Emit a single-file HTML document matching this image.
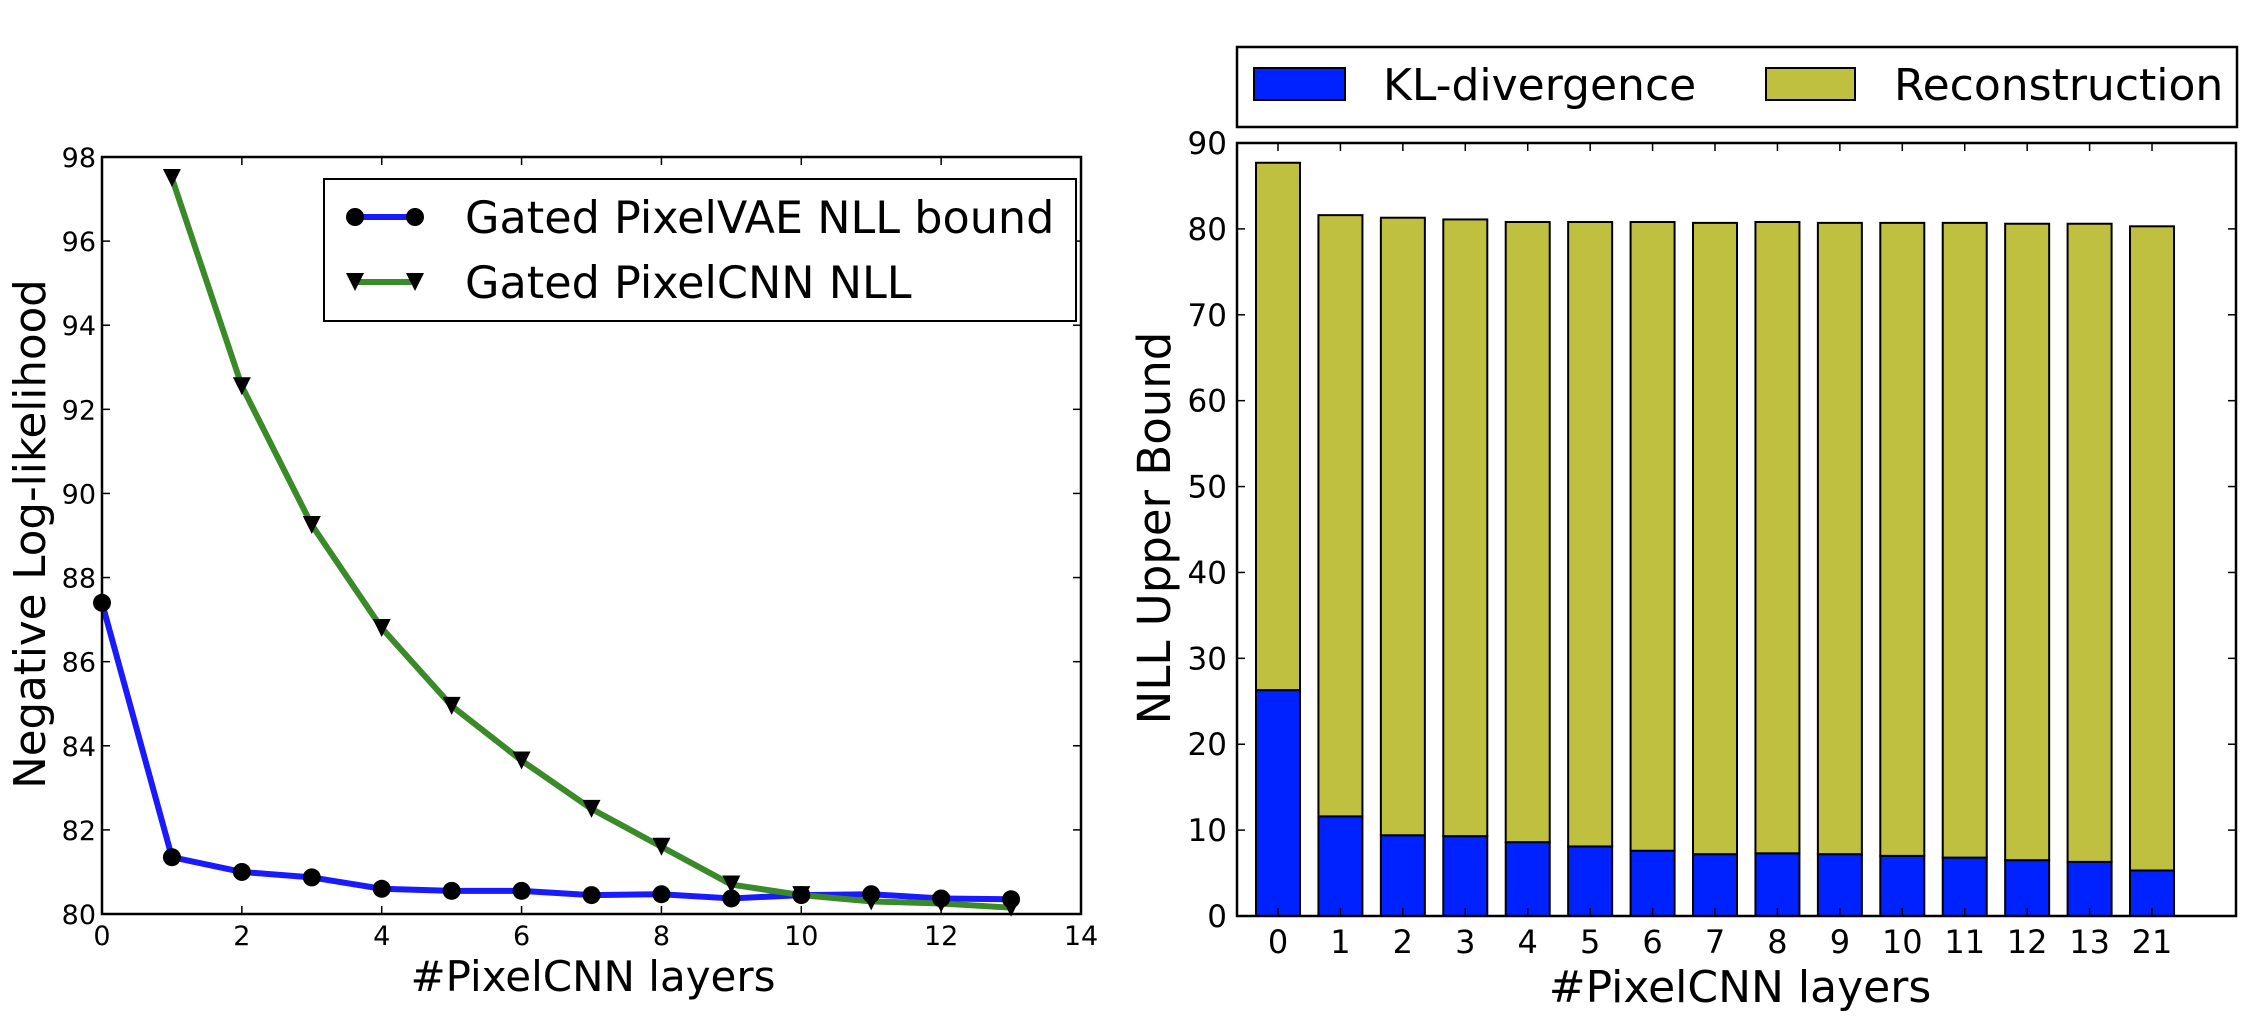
<!DOCTYPE html>
<html><head><meta charset="utf-8">
<style>
html,body{margin:0;padding:0;background:#fff;}
svg{display:block;font-family:"DejaVu Sans","Liberation Sans",sans-serif;}
</style></head>
<body>
<svg id="chart" width="2247" height="1016" viewBox="0 0 2247 1016" xmlns="http://www.w3.org/2000/svg">
<rect width="2247" height="1016" fill="#fff"/>
<g id="left"></g>
<g id="right"></g>
</svg>
<script>
// Left chart data
const layersLeft = [0,1,2,3,4,5,6,7,8,9,10,11,12,13];
const vaeNLL = [87.4,81.35,81.0,80.87,80.6,80.55,80.55,80.45,80.47,80.37,80.45,80.47,80.37,80.35];
const cnnLayers = [1,2,3,4,5,6,7,8,9,10,11,12,13];
const cnnNLL = [97.5,92.55,89.25,86.8,84.95,83.65,82.5,81.6,80.7,80.45,80.3,80.25,80.15];
const leftXTicks = [0,2,4,6,8,10,12,14];
const leftYTicks = [80,82,84,86,88,90,92,94,96,98];
// Right chart data
const barCategories = ["0","1","2","3","4","5","6","7","8","9","10","11","12","13","21"];
const klValues = [26.3,11.6,9.4,9.3,8.6,8.1,7.6,7.2,7.3,7.2,7.0,6.8,6.5,6.3,5.3];
const reconValues = [61.4,70.0,71.9,71.8,72.2,72.7,73.2,73.5,73.5,73.5,73.7,73.9,74.1,74.3,75.0];
const rightYTicks = [0,10,20,30,40,50,60,70,80,90];

const NS="http://www.w3.org/2000/svg";
function mk(parent,tag,attrs,text){const e=document.createElementNS(NS,tag);for(const k in attrs)e.setAttribute(k,attrs[k]);if(text!==undefined)e.textContent=text;parent.appendChild(e);return e;}

// ---------- LEFT ----------
const L=document.getElementById('left');
const lx0=102,lx1=1081,ly0=914,ly1=157;
const lxs=v=>lx0+(v-0)/(14-0)*(lx1-lx0);
const lys=v=>ly0-(v-80)/(98-80)*(ly0-ly1);
leftXTicks.forEach(t=>{
  const x=lxs(t);
  const a=mk(L,'line',{x1:x,y1:ly0,x2:x,y2:ly0-8,stroke:'#000','stroke-width':1.5});
  
  
  const b=mk(L,'line',{x1:x,y1:ly1,x2:x,y2:ly1+8,stroke:'#000','stroke-width':1.5});
  
  
  const tx=mk(L,'text',{x:x,y:945,'font-size':27,'text-anchor':'middle'},String(t));
  
  
});
leftYTicks.forEach(t=>{
  const y=lys(t);
  const a=mk(L,'line',{x1:lx0,y1:y,x2:lx0+8,y2:y,stroke:'#000','stroke-width':1.5});
  
  
  const b=mk(L,'line',{x1:lx1,y1:y,x2:lx1-8,y2:y,stroke:'#000','stroke-width':1.5});
  
  
  const tx=mk(L,'text',{x:lx0-6,y:y+10,'font-size':27,'text-anchor':'end'},String(t));
  
  
});
// lines
const vaePts=layersLeft.map((v,i)=>lxs(v)+','+lys(vaeNLL[i])).join(' ');
const vl=mk(L,'polyline',{points:vaePts,fill:'none',stroke:'#1a1aff','stroke-width':6,'stroke-linejoin':'round'});


const cnnPts=cnnLayers.map((v,i)=>lxs(v)+','+lys(cnnNLL[i])).join(' ');
const cl=mk(L,'polyline',{points:cnnPts,fill:'none',stroke:'#3a8a2a','stroke-width':6,'stroke-linejoin':'round'});


layersLeft.forEach((v,i)=>{
  const c=mk(L,'circle',{cx:lxs(v),cy:lys(vaeNLL[i]),r:9,fill:'#000'});
  
  
});
cnnLayers.forEach((v,i)=>{
  const x=lxs(v),y=lys(cnnNLL[i]);
  const p=mk(L,'polygon',{points:`${x-9},${y-9} ${x+9},${y-9} ${x},${y+9}`,fill:'#000'});
  
  
});
const lf=mk(L,'rect',{x:lx0,y:ly1,width:lx1-lx0,height:ly0-ly1,fill:'none',stroke:'#000','stroke-width':2.5});


// legend
const lg=mk(L,'g',{});


mk(lg,'rect',{x:324,y:179,width:752,height:142,fill:'#fff',stroke:'#000','stroke-width':2});
mk(lg,'line',{x1:354,y1:217,x2:416,y2:217,stroke:'#1a1aff','stroke-width':6});
mk(lg,'circle',{cx:355,cy:217,r:9,fill:'#000'});
mk(lg,'circle',{cx:415,cy:217,r:9,fill:'#000'});
const t1=mk(lg,'text',{x:465,y:233,'font-size':44.5},'Gated PixelVAE NLL bound');


mk(lg,'line',{x1:354,y1:282,x2:416,y2:282,stroke:'#3a8a2a','stroke-width':6});
mk(lg,'polygon',{points:'346,273 364,273 355,291',fill:'#000'});
mk(lg,'polygon',{points:'406,273 424,273 415,291',fill:'#000'});
const t2=mk(lg,'text',{x:465,y:298,'font-size':44.5},'Gated PixelCNN NLL');


const lxl=mk(L,'text',{x:593,y:991,'font-size':42,'text-anchor':'middle'},'#PixelCNN layers');


const lyl=mk(L,'text',{x:0,y:0,'font-size':43.5,'text-anchor':'middle',transform:'translate(45,534) rotate(-90)'},'Negative Log-likelihood');



// ---------- RIGHT ----------
const R=document.getElementById('right');
const rx0=1237,rx1=2236,ry0=916,ry1=143;
const rxs=i=>1278+i*62.43;
const rys=v=>ry0-v/90*(ry0-ry1);
const bw=44;
barCategories.forEach((c,i)=>{
  const x=rxs(i)-bw/2;
  const kl=klValues[i], rc=reconValues[i];
  const b1=mk(R,'rect',{x:x,y:rys(kl),width:bw,height:rys(0)-rys(kl),fill:'#0022ff',stroke:'#000','stroke-width':2});
  
  
  const b2=mk(R,'rect',{x:x,y:rys(kl+rc),width:bw,height:rys(kl)-rys(kl+rc),fill:'#bfbf40',stroke:'#000','stroke-width':2});
  
  
  const tk=mk(R,'line',{x1:rxs(i),y1:ry0,x2:rxs(i),y2:ry0-8,stroke:'#000','stroke-width':1.5});
  
  
  const tk2=mk(R,'line',{x1:rxs(i),y1:ry1,x2:rxs(i),y2:ry1+8,stroke:'#000','stroke-width':1.5});
  
  
  const tl=mk(R,'text',{x:rxs(i),y:953,'font-size':32,'text-anchor':'middle'},c);
  
  
});
rightYTicks.forEach(t=>{
  const y=rys(t);
  const a=mk(R,'line',{x1:rx0,y1:y,x2:rx0+8,y2:y,stroke:'#000','stroke-width':1.5});
  
  
  const b=mk(R,'line',{x1:rx1,y1:y,x2:rx1-8,y2:y,stroke:'#000','stroke-width':1.5});
  
  
  const tx=mk(R,'text',{x:rx0-10,y:y+11,'font-size':31,'text-anchor':'end'},String(t));
  
  
});
const rf=mk(R,'rect',{x:rx0,y:ry1,width:rx1-rx0,height:ry0-ry1,fill:'none',stroke:'#000','stroke-width':2.5});


const rg=mk(R,'g',{});


mk(rg,'rect',{x:1237,y:47,width:1000,height:80,fill:'#fff',stroke:'#000','stroke-width':2.5});
mk(rg,'rect',{x:1254,y:68,width:91,height:32,fill:'#0022ff',stroke:'#000','stroke-width':2});
const r1=mk(rg,'text',{x:1383,y:100,'font-size':44},'KL-divergence');


mk(rg,'rect',{x:1766,y:68,width:89,height:32,fill:'#bfbf40',stroke:'#000','stroke-width':2});
const r2=mk(rg,'text',{x:1894,y:100,'font-size':44},'Reconstruction');


const rxl=mk(R,'text',{x:1740,y:1002,'font-size':44,'text-anchor':'middle'},'#PixelCNN layers');


const ryl=mk(R,'text',{x:0,y:0,'font-size':45,'text-anchor':'middle',transform:'translate(1170,528) rotate(-90)'},'NLL Upper Bound');


</script>
</body></html>
